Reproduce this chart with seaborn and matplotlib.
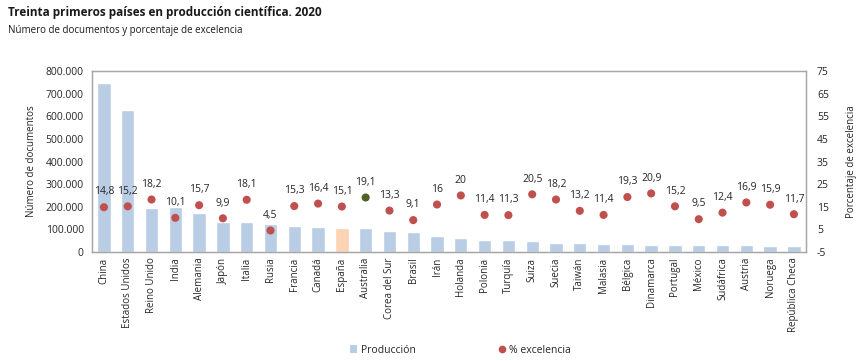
import matplotlib
matplotlib.use("Agg")
import matplotlib.pyplot as plt
import seaborn as sns
import numpy as np
import pandas as pd
from matplotlib.patches import Patch
from matplotlib.lines import Line2D
from matplotlib.ticker import FuncFormatter, FixedLocator

paises = ["China", "Estados Unidos", "Reino Unido", "India", "Alemania", "Japón", "Italia",
          "Rusia", "Francia", "Canadá", "España", "Australia", "Corea del Sur", "Brasil",
          "Irán", "Holanda", "Polonia", "Turquía", "Suiza", "Suecia", "Taiwán", "Malasia",
          "Bélgica", "Dinamarca", "Portugal", "México", "Sudáfrica", "Austria", "Noruega",
          "República Checa"]
produccion = [748000, 628000, 196000, 199000, 174000, 131000, 133000, 125000, 116000, 112000,
              106000, 106000, 93000, 88000, 71000, 62000, 55000, 55000, 50000, 41000,
              41000, 37000, 34000, 30000, 29000, 29000, 30000, 30000, 25000, 25000]
excelencia = [14.8, 15.2, 18.2, 10.1, 15.7, 9.9, 18.1, 4.5, 15.3, 16.4, 15.1, 19.1, 13.3, 9.1,
              16, 20, 11.4, 11.3, 20.5, 18.2, 13.2, 11.4, 19.3, 20.9, 15.2, 9.5, 12.4, 16.9,
              15.9, 11.7]
left_ticks = [0, 100000, 200000, 300000, 400000, 500000, 600000, 700000, 800000]
right_ticks = [-5, 5, 15, 25, 35, 45, 55, 65, 75]

BAR = "#B9CDE5"
BAR_ES = "#FBD4B4"
DOT = "#C0504D"
DOT_AU = "#4F6228"
TXT = "#262626"

bar_colors = [BAR_ES if p == "España" else BAR for p in paises]
dot_colors = [DOT_AU if p == "Australia" else DOT for p in paises]

df = pd.DataFrame({"pais": paises, "produccion": produccion, "excelencia": excelencia})

sns.set_theme(style="white")
plt.rcParams["font.family"] = ["Open Sans", "DejaVu Sans"]
plt.rcParams["axes.unicode_minus"] = False

fig = plt.figure(figsize=(8.61, 3.61), dpi=100)
ax = fig.add_axes([0.1069, 0.302, 0.829, 0.501])

sns.barplot(data=df, x="pais", y="produccion", hue="pais", palette=bar_colors,
            legend=False, width=0.56, ax=ax, saturation=1)
ax.set_ylim(0, 800000)
ax.set_xlim(-0.5, len(paises) - 0.5)
ax.yaxis.set_major_locator(FixedLocator(left_ticks))
ax.yaxis.set_major_formatter(FuncFormatter(lambda v, p: f"{int(v):,}".replace(",", ".")))
ax.set_xlabel("")
ax.set_ylabel("Número de documentos", fontsize=7, color=TXT, labelpad=6)
ax.tick_params(axis="y", labelsize=7.5, colors=TXT, length=0, pad=6)
ax.tick_params(axis="x", labelsize=7, colors=TXT, length=0, pad=4)
ax.set_xticks(range(len(paises)))
ax.set_xticklabels(paises, rotation=90)
for s in ax.spines.values():
    s.set_color("#A6A6A6")
    s.set_linewidth(0.9)

ax2 = ax.twinx()
xs = np.arange(len(paises))
sns.scatterplot(x=xs, y=excelencia, hue=paises, palette=dot_colors, legend=False,
                s=34, edgecolor="none", ax=ax2)
ax2.set_ylim(-5, 75)
ax2.yaxis.set_major_locator(FixedLocator(right_ticks))
ax2.tick_params(axis="y", labelsize=7.5, colors=TXT, length=0, pad=8)
ax2.set_ylabel("Porcentaje de excelencia", fontsize=7, color=TXT, labelpad=12)
ax2.set_xlim(-0.5, len(paises) - 0.5)
for s in ax2.spines.values():
    s.set_color("#A6A6A6")
    s.set_linewidth(0.9)

for x, v in zip(xs, excelencia):
    lab = (f"{v:.1f}".replace(".", ",")) if v != int(v) else str(int(v))
    ax2.annotate(lab, (x, v), xytext=(0, 7), textcoords="offset points",
                 ha="center", va="bottom", fontsize=7.5, color=TXT)

fig.text(0.009, 0.965, "Treinta primeros países en producción científica. 2020",
         fontsize=8.5, fontweight="bold", color="#1a1a1a", va="center")
fig.text(0.009, 0.915, "Número de documentos y porcentaje de excelencia",
         fontsize=7, color="#1a1a1a", va="center")

handles = [Patch(facecolor=BAR, edgecolor="none", label="Producción"),
           Line2D([], [], marker="o", linestyle="none", markersize=5.5,
                  markerfacecolor=DOT, markeredgecolor="none", label="% excelencia")]
leg = fig.legend(handles=handles, loc="center", bbox_to_anchor=(0.535, 0.03), ncol=2,
                 frameon=False, fontsize=7.5, handlelength=0.7, handleheight=0.7,
                 handletextpad=0.3, columnspacing=8)
for t in leg.get_texts():
    t.set_color(TXT)

fig.savefig("out.png", dpi=100)
